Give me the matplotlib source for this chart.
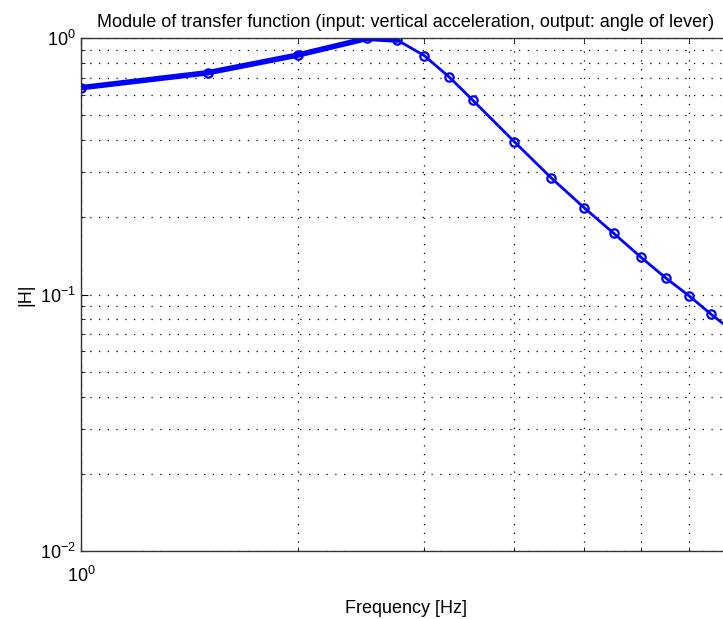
import numpy as np
import matplotlib.pyplot as plt
from matplotlib.ticker import LogLocator, NullFormatter

plt.rcParams['font.family'] = ['Liberation Sans', 'DejaVu Sans']
plt.rcParams['mathtext.fontset'] = 'custom'
plt.rcParams['mathtext.rm'] = 'Liberation Sans'

freq = [1.0, 1.5, 2.0, 2.5, 2.75, 3.0, 3.25, 3.5, 4.0, 4.5, 5.0, 5.5, 6.0, 6.5, 7.0, 7.5, 8.0]
H = [0.640, 0.732, 0.858, 0.997, 0.982, 0.853, 0.703, 0.573, 0.394, 0.285,
     0.218, 0.173, 0.1396, 0.1157, 0.0987, 0.0839, 0.0729]

fig = plt.figure(figsize=(7.23, 6.19), dpi=100)
ax = fig.add_axes([81 / 723, 68 / 619, 650 / 723, 513 / 619])

# thick part at low frequencies
ax.plot(freq[:5], H[:5], color=(0, 0, 1), lw=4, solid_capstyle='round')
ax.plot(freq, H, color=(0, 0, 1), lw=2, marker='o', ms=6, mfc='none', mew=1.6)

ax.set_xscale('log')
ax.set_yscale('log')
ax.set_xlim(1, 8)
ax.set_ylim(1e-2, 1)

ax.xaxis.set_major_locator(LogLocator(base=10))
ax.xaxis.set_minor_locator(LogLocator(base=10, subs=np.arange(2, 10)))
ax.xaxis.set_minor_formatter(NullFormatter())
ax.yaxis.set_minor_locator(LogLocator(base=10, subs=np.arange(2, 10)))
ax.yaxis.set_minor_formatter(NullFormatter())

ax.grid(True, which='both', color='black', linestyle=(0, (1, 6)), lw=0.9)
ax.tick_params(which='both', direction='in', top=True, right=True, labelsize=13)
ax.tick_params(which='major', length=5)
ax.tick_params(which='minor', length=3)
ax.tick_params(axis='x', pad=11)
for s in ax.spines.values():
    s.set_color('#333333')
    s.set_linewidth(1)

ax.set_title('Module of transfer function (input: vertical acceleration, output: angle of lever)',
             fontsize=13, pad=8)
ax.set_xlabel('Frequency [Hz]', fontsize=13, labelpad=10)
ax.set_ylabel('|H|', fontsize=13, labelpad=4)

fig.savefig('out.png', dpi=100)
